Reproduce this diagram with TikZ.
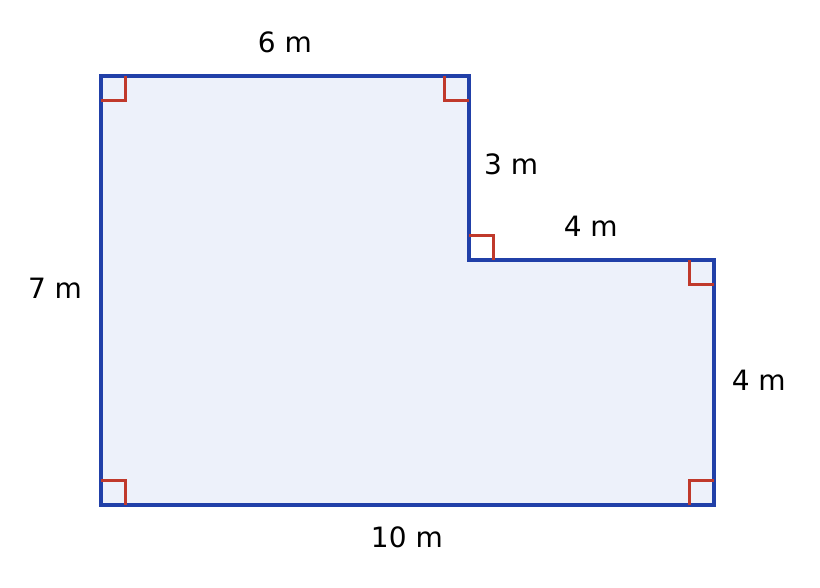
\documentclass[tikz,border=0pt]{standalone}
\usepackage{fontspec}
\setmainfont{DejaVu Sans}
\definecolor{edgeblue}{HTML}{2140A8}
\definecolor{roomfill}{HTML}{EDF1FA}
\definecolor{markred}{HTML}{C0392B}
\begin{document}
\begin{tikzpicture}
  [
    wall/.style={draw=edgeblue,fill=roomfill,line width=0.07cm,line join=miter},
    rightangle/.style={draw=markred,line width=0.045cm},
    dimension/.style={font=\fontsize{13}{15}\selectfont,inner sep=0pt},
  ]
  \useasboundingbox (-1.648,-1.338) rectangle (11.729,8.238);
  \coordinate (A) at (0,0);
  \coordinate (B) at (10,0);
  \coordinate (C) at (10,4);
  \coordinate (D) at (6,4);
  \coordinate (E) at (6,7);
  \coordinate (F) at (0,7);
  \path[wall] (A) -- (B) -- (C) -- (D) -- (E) -- (F) -- cycle;
  % right angle marks
  \draw[rightangle] (A) ++(0,0.4) -| ++(0.4,-0.4);
  \draw[rightangle] (B) ++(0,0.4) -| ++(-0.4,-0.4);
  \draw[rightangle] (C) ++(0,-0.4) -| ++(-0.4,0.4);
  \draw[rightangle] (D) ++(0,0.4) -| ++(0.4,-0.4);
  \draw[rightangle] (E) ++(0,-0.4) -| ++(-0.4,0.4);
  \draw[rightangle] (F) ++(0,-0.4) -| ++(0.4,0.4);
  % labels
  \node at (3,7.54) [dimension] {6 m};
  \node at (6.69,5.55) [dimension] {3 m};
  \node at (7.99,4.54) [dimension] {4 m};
  \node at (-0.75,3.54) [dimension] {7 m};
  \node at (10.73,2.04) [dimension] {4 m};
  \node at (4.99,-0.52) [dimension] {10 m};
\end{tikzpicture}
\end{document}
